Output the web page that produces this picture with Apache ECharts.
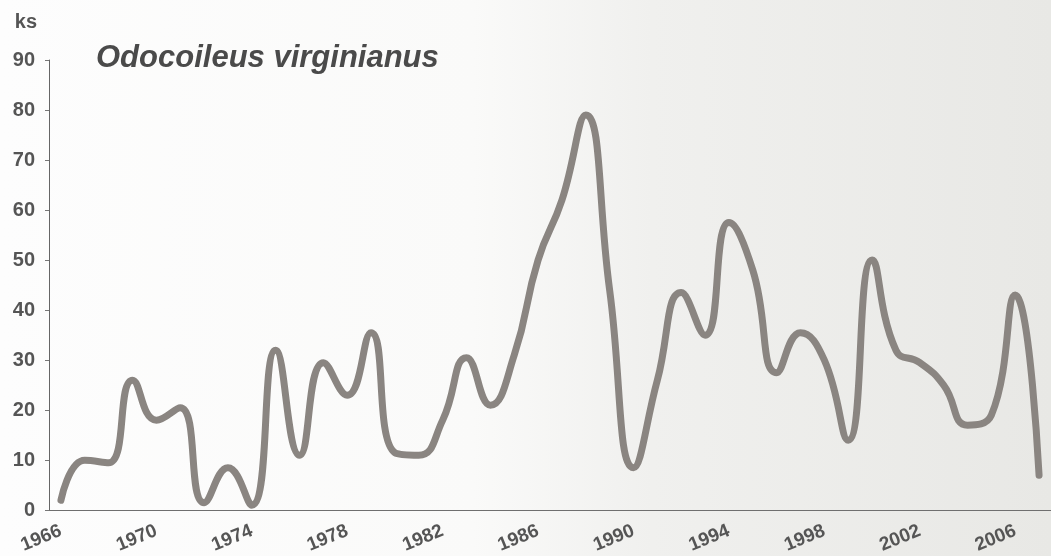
<!DOCTYPE html>
<html>
<head>
<meta charset="utf-8">
<title>Odocoileus virginianus</title>
<script src="https://cdn.jsdelivr.net/npm/echarts@6/dist/echarts.min.js"></script>
<style>
  html, body { margin: 0; padding: 0; background: #ffffff; }
  #chart { width: 1051px; height: 556px; }
</style>
</head>
<body>
<div id="chart"></div>
<script>
// Yearly values (ks) for white-tailed deer, 1966–2007
const years = [
  '1966', '1967', '1968', '1969', '1970', '1971', '1972', '1973', '1974', '1975',
  '1976', '1977', '1978', '1979', '1980', '1981', '1982', '1983', '1984', '1985',
  '1986', '1987', '1988', '1989', '1990', '1991', '1992', '1993', '1994', '1995',
  '1996', '1997', '1998', '1999', '2000', '2001', '2002', '2003', '2004', '2005',
  '2006', '2007'
];
const counts = [
  2, 10, 9.5, 26, 18, 20.5, 1.5, 8.5, 1, 32,
  11, 29.5, 23, 35.5, 11.5, 11, 18, 30.5, 21, 31,
  50, 62, 79, 44, 8.5, 26, 43.5, 35, 57.5, 48,
  27.5, 35.5, 30, 14, 50, 32, 29.5, 25, 17, 19,
  43, 7
];
const yTicks = [0, 10, 20, 30, 40, 50, 60, 70, 80, 90];

const speciesName = 'Odocoileus virginianus';
const unitName = 'ks';

const chart = echarts.init(document.getElementById('chart'), null, { renderer: 'canvas' });

chart.setOption({
  animation: false,
  backgroundColor: {
    type: 'linear', x: 0, y: 0, x2: 1, y2: 0,
    colorStops: [
      { offset: 0, color: '#fdfdfd' },
      { offset: 0.45, color: '#fafaf9' },
      { offset: 0.62, color: '#f0f0ee' },
      { offset: 1, color: '#e8e8e5' }
    ]
  },
  title: {
    text: speciesName,
    left: 91,
    top: 38,
    textStyle: {
      fontFamily: 'Liberation Sans, Arial, sans-serif',
      fontStyle: 'italic',
      fontWeight: 'bold',
      fontSize: 31,
      color: '#4a4a4a'
    }
  },
  grid: { left: 49, top: 60, width: 1012, height: 451 },
  xAxis: {
    type: 'category',
    data: years,
    boundaryGap: true,
    axisLine: { lineStyle: { color: '#6f6f6f', width: 1 } },
    axisTick: { interval: 0, length: 4, lineStyle: { color: '#777' } },
    axisLabel: {
      interval: 3,
      rotate: 22,
      margin: 20,
      fontFamily: 'Liberation Sans, Arial, sans-serif',
      fontWeight: 'bold',
      fontSize: 19,
      color: '#555'
    },
    splitLine: { show: false }
  },
  yAxis: {
    type: 'value',
    min: yTicks[0],
    max: yTicks[yTicks.length - 1],
    interval: 10,
    name: unitName,
    nameLocation: 'end',
    nameGap: 38,
    nameTextStyle: {
      align: 'right',
      verticalAlign: 'middle',
      padding: [0, 12, 0, 0],
      fontFamily: 'Liberation Sans, Arial, sans-serif',
      fontWeight: 'bold',
      fontSize: 20,
      color: '#555'
    },
    axisLine: { show: true, lineStyle: { color: '#666', width: 1 } },
    axisTick: { show: true, length: 4, lineStyle: { color: '#777' } },
    axisLabel: {
      margin: 14,
      fontFamily: 'Liberation Sans, Arial, sans-serif',
      fontWeight: 'bold',
      fontSize: 20,
      color: '#555'
    },
    splitLine: { show: false }
  },
  series: [{
    type: 'line',
    data: counts,
    smooth: 0.5,
    symbol: 'none',
    lineStyle: { color: '#8a8581', width: 7, cap: 'round', join: 'round' }
  }]
});
</script>
</body>
</html>
